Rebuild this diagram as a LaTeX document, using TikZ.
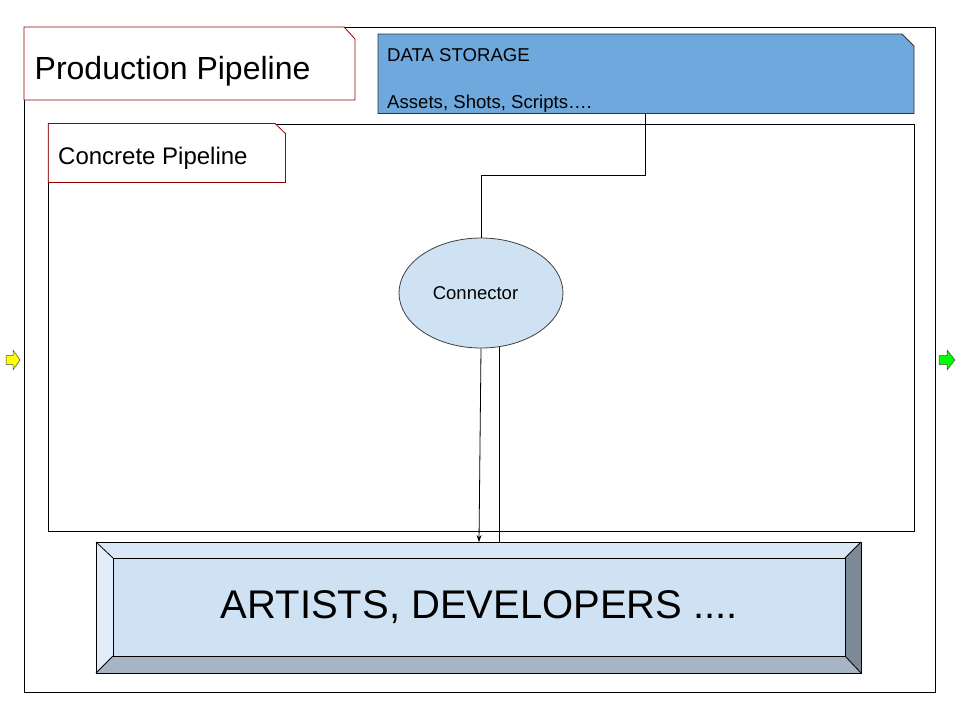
\documentclass[tikz,border=0pt]{standalone}
\usepackage{fontspec}
\setmainfont{Liberation Sans}
\usetikzlibrary{shapes.geometric,arrows.meta}
\definecolor{tabred}{HTML}{990000}
\definecolor{dsblue}{HTML}{6FA8DC}
\definecolor{lightblue}{HTML}{CFE2F3}
\definecolor{bevtop}{HTML}{DAE7F4}
\definecolor{bevleft}{HTML}{E3EDF8}
\definecolor{bevbot}{HTML}{A6B4C3}
\definecolor{bevright}{HTML}{7D8994}
\definecolor{arrowyellow}{HTML}{FFFF00}
\definecolor{arrowgreen}{HTML}{00FF00}
\tikzset{
  frame/.style={draw=black, line width=0.8pt, inner sep=0pt, anchor=north west},
  tabline/.style={draw=tabred, line width=0.8pt, fill=white},
  label/.style={anchor=base west, inner sep=0pt},
  conn/.style={draw=black, line width=0.8pt},
  blockarrow/.style={draw=black!70, line width=0.5pt}
}
\begin{document}
\begin{tikzpicture}[x=1pt,y=-1pt]
\useasboundingbox[fill=white] (0,0) rectangle (960,720);
% outer frame
\node[frame, minimum width=911pt, minimum height=665pt] (outer) at (24,27) {};
% production tab
\draw[tabline] (24,27) -- (344,27) -- (355,39) -- (355,100) -- (24,100) -- cycle;
\node[label, font=\fontsize{32}{37}\selectfont] (prod) at (34.5,79) {Production Pipeline};
% data storage
\draw[draw=black!80, line width=0.8pt, fill=dsblue] (378,34) -- (902,34) -- (914,46) -- (914,113.5) -- (378,113.5) -- cycle;
\node[label, font=\fontsize{18.6}{21}\selectfont] (dstitle) at (387,61) {DATA STORAGE};
\node[label, font=\fontsize{18.6}{21}\selectfont] (dsitems) at (387,108) {Assets, Shots, Scripts….};
\coordinate (dsout) at (645.5,113.5);
% concrete pipeline
\node[frame, minimum width=865.5pt, minimum height=407pt] (concrete) at (48.3,123.5) {};
\draw[tabline] (48.3,123.5) -- (275,123.5) -- (285.5,133.5) -- (285.5,182.5) -- (48.3,182.5) -- cycle;
\node[label, font=\fontsize{24}{28}\selectfont] (conctitle) at (58,164) {Concrete Pipeline};
% connector ellipse
\node[ellipse, draw=black!75, line width=0.8pt, fill=lightblue, minimum width=164pt, minimum height=110pt, inner sep=0pt, font=\fontsize{18.5}{21}\selectfont] (conn) at (481,293) {\hspace*{-11pt}Connector};
% bottom bevel box
\coordinate (o1) at (96,542); \coordinate (o2) at (861,542);
\coordinate (o3) at (861,673); \coordinate (o4) at (96,673);
\coordinate (i1) at (113,558); \coordinate (i2) at (845,558);
\coordinate (i3) at (845,656); \coordinate (i4) at (113,656);
\fill[bevtop] (o1) -- (o2) -- (i2) -- (i1) -- cycle;
\fill[bevleft] (o1) -- (i1) -- (i4) -- (o4) -- cycle;
\fill[bevbot] (o4) -- (i4) -- (i3) -- (o3) -- cycle;
\fill[bevright] (o2) -- (o3) -- (i3) -- (i2) -- cycle;
\node[draw=black, line width=0.8pt, fill=lightblue, inner sep=0pt, anchor=north west, minimum width=732pt, minimum height=98pt, font=\fontsize{40}{46}\selectfont] (art) at (113,558) {ARTISTS, DEVELOPERS ....};
\draw[line width=0.8pt] (o1) -- (o2) -- (o3) -- (o4) -- cycle;
\draw[line width=0.8pt] (o1) -- (i1) (o2) -- (i2) (o3) -- (i3) (o4) -- (i4);
\node[inner sep=0pt, minimum width=765pt, minimum height=131pt, anchor=north west] (artbox) at (96,542) {};
% connectors
\draw[conn] (dsout) -- ++(0,62) -| (conn.north);
\coordinate (arrowend) at (479,542);
\draw[conn, -{Stealth[length=7pt,width=5pt]}] (conn.south) -- (arrowend);
\draw[conn] (conn.-71.5) -- (conn.-71.5 |- artbox.north);
% side block arrows
\draw[blockarrow, fill=arrowyellow] (6,355.5) -- (13,355.5) -- (13,350) -- (20,360) -- (13,370) -- (13,364.5) -- (6,364.5) -- cycle;
\draw[blockarrow, fill=arrowgreen] (939,355.5) -- (947,355.5) -- (947,350) -- (955,360) -- (947,370) -- (947,364.5) -- (939,364.5) -- cycle;
\end{tikzpicture}
\end{document}
